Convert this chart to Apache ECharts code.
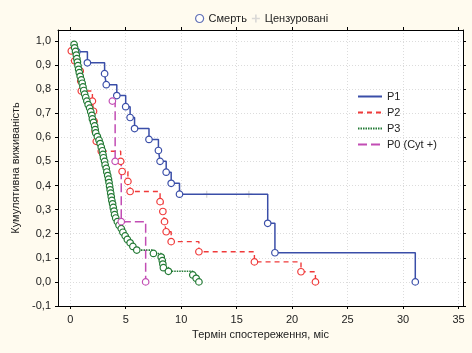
<!DOCTYPE html>
<html>
<head>
<meta charset="utf-8">
<script src="https://cdn.jsdelivr.net/npm/echarts@6/dist/echarts.min.js"></script>
<style>
  html, body { margin: 0; padding: 0; background: #fffbef; }
  #chart { width: 472px; height: 353px; }
</style>
</head>
<body>
<div id="chart"></div>
<script>
// tick labels
var xTicks = [0, 5, 10, 15, 20, 25, 30, 35];
var yTicks = [-0.1, 0, 0.1, 0.2, 0.3, 0.4, 0.5, 0.6, 0.7, 0.8, 0.9, 1.0];

// P1: event times and survival
var p1Time = [0.6, 1.55, 3.1, 3.25, 4.2, 5.0, 5.4, 5.8, 7.1, 7.95, 8.1, 8.65, 9.1, 9.85, 17.8, 18.45, 31.1];
var p1Surv = [0.955, 0.909, 0.864, 0.818, 0.773, 0.727, 0.682, 0.636, 0.591, 0.545, 0.500, 0.455, 0.409, 0.364, 0.243, 0.121, 0.0];

// P2
var p2Time = [0.1, 0.4, 0.9, 0.95, 1.0, 2.0, 2.1, 2.15, 2.25, 2.35, 2.8, 4.55, 4.68, 5.2, 5.4, 8.1, 8.35, 8.5, 8.65, 9.1, 11.6, 16.6, 20.8, 22.1];
var p2Surv = [0.958, 0.917, 0.875, 0.833, 0.792, 0.750, 0.708, 0.667, 0.625, 0.583, 0.542, 0.500, 0.458, 0.417, 0.375, 0.333, 0.292, 0.250, 0.208, 0.167, 0.125, 0.083, 0.042, 0.0];

// P3
var p3Time = [0.35, 0.40, 0.48, 0.55, 0.60, 0.65, 0.70, 0.76, 0.82, 0.90, 1.00, 1.08, 1.15, 1.22, 1.30, 1.40, 1.50, 1.62, 1.75, 1.85,
              1.95, 2.00, 2.10, 2.20, 2.25, 2.30, 2.45, 2.60, 2.70, 2.80, 2.90, 2.95, 3.00, 3.10, 3.15, 3.25, 3.30, 3.38, 3.45, 3.50,
              3.55, 3.60, 3.65, 3.70, 3.75, 3.82, 3.88, 3.95, 4.00, 4.10, 4.25, 4.40, 4.60, 4.75, 4.95, 5.15, 5.40, 5.65, 6.00, 7.50,
              8.20, 8.30, 8.35, 8.40, 8.85, 11.05, 11.35, 11.6];
var p3Surv = [0.985, 0.971, 0.956, 0.941, 0.926, 0.912, 0.897, 0.882, 0.868, 0.853, 0.838, 0.824, 0.809, 0.794, 0.779, 0.765, 0.750, 0.735, 0.721, 0.706,
              0.691, 0.676, 0.662, 0.647, 0.632, 0.618, 0.603, 0.588, 0.574, 0.559, 0.544, 0.529, 0.515, 0.500, 0.485, 0.471, 0.456, 0.441, 0.426, 0.412,
              0.397, 0.382, 0.368, 0.353, 0.338, 0.324, 0.309, 0.294, 0.279, 0.265, 0.250, 0.235, 0.221, 0.206, 0.191, 0.176, 0.162, 0.147, 0.132, 0.118,
              0.103, 0.088, 0.074, 0.059, 0.044, 0.029, 0.015, 0.0];

// P0 (Cyt +)
var p0Time = [3.8, 4.05, 4.6, 6.8];
var p0Surv = [0.75, 0.50, 0.25, 0.0];

// censored observations
var censTime = [12.3, 16.1];
var censSurv = [0.364, 0.364];

var font = "'Liberation Sans Narrow', 'Liberation Sans', Arial, sans-serif";
var plusPath = 'path://M4,0L6,0L6,4L10,4L10,6L6,6L6,10L4,10L4,6L0,6L0,4L4,4Z';

function zip(a, b) {
    return a.map(function (v, i) { return [v, b[i]]; });
}

function kmSeries(name, time, surv, color, type, width) {
    return {
        name: name,
        type: 'line',
        step: 'end',
        data: zip(time, surv),
        symbol: 'circle',
        symbolSize: 6.5,
        showAllSymbol: true,
        itemStyle: { color: '#ffffff', borderColor: color, borderWidth: 1.2 },
        lineStyle: { color: color, width: width, type: type },
        emphasis: { disabled: true }
    };
}

var chart = echarts.init(document.getElementById('chart'), null, { renderer: 'canvas' });

var gridLine = { show: true, lineStyle: { color: '#dcdcdc', type: [1, 2], width: 1 } };

var option = {
    animation: false,
    backgroundColor: '#fffbef',
    textStyle: { fontFamily: font },
    grid: { left: 58, top: 30, right: 9, bottom: 47, show: true, backgroundColor: '#ffffff', borderWidth: 0 },
    legend: [
        {
            data: ['Смерть', 'Цензуровані'],
            top: 8,
            left: 190,
            itemWidth: 8,
            itemHeight: 8,
            itemGap: 5,
            itemStyle: { borderWidth: 1.2 },
            textStyle: { fontFamily: font, fontSize: 11, color: '#222' }
        },
        {
            data: ['P1', 'P2', 'P3', 'P0 (Cyt +)'],
            orient: 'vertical',
            left: 352,
            top: 86,
            itemWidth: 24,
            itemHeight: 12,
            itemGap: 5,
            itemStyle: { color: 'rgba(0,0,0,0)', borderColor: 'rgba(0,0,0,0)', borderWidth: 0, opacity: 0 },
            textStyle: { fontFamily: font, fontSize: 11, color: '#222' }
        }
    ],
    xAxis: [
        {
            type: 'value',
            position: 'bottom',
            min: -1.1,
            max: 35.4,
            name: 'Термін спостереження, міс',
            nameLocation: 'middle',
            nameGap: 23,
            nameTextStyle: { fontFamily: font, fontSize: 11, color: '#222' },
            axisLine: { show: true, onZero: false, lineStyle: { color: '#000', width: 1 } },
            axisTick: { show: true, length: 3, customValues: xTicks, lineStyle: { color: '#000' } },
            axisLabel: { customValues: xTicks, fontFamily: font, fontSize: 11, color: '#222', margin: 8 },
            splitLine: gridLine
        },
        {
            type: 'value',
            position: 'top',
            min: -1.1,
            max: 35.4,
            axisLine: { show: true, onZero: false, lineStyle: { color: '#000', width: 1 } },
            axisTick: { show: true, length: 3, customValues: xTicks, lineStyle: { color: '#000' } },
            axisLabel: { show: false },
            splitLine: { show: false }
        }
    ],
    yAxis: [
        {
            type: 'value',
            position: 'left',
            min: -0.1,
            max: 1.045,
            name: 'Кумулятивна виживаність',
            nameLocation: 'middle',
            nameGap: 35,
            nameTextStyle: { fontFamily: font, fontSize: 11, color: '#222' },
            axisLine: { show: true, onZero: false, lineStyle: { color: '#000', width: 1 } },
            axisTick: { show: true, length: 3, customValues: yTicks, lineStyle: { color: '#000' } },
            axisLabel: {
                customValues: yTicks,
                fontFamily: font, fontSize: 11, color: '#222', margin: 7,
                formatter: function (v) { return v.toFixed(1).replace('.', ','); }
            },
            splitLine: gridLine
        },
        {
            type: 'value',
            position: 'right',
            min: -0.1,
            max: 1.045,
            axisLine: { show: true, onZero: false, lineStyle: { color: '#000', width: 1 } },
            axisTick: { show: true, length: 3, customValues: yTicks, lineStyle: { color: '#000' } },
            axisLabel: { show: false },
            splitLine: { show: false }
        }
    ],
    series: [
        kmSeries('P1', p1Time, p1Surv, '#3a4ea8', 'solid', 1.5),
        kmSeries('P2', p2Time, p2Surv, '#f03a3a', [5, 4], 1.4),
        kmSeries('P3', p3Time, p3Surv, '#237a35', [1.5, 1], 1.6),
        kmSeries('P0 (Cyt +)', p0Time, p0Surv, '#c24db4', [9, 4], 1.5),
        {
            name: 'Цензуровані',
            type: 'scatter',
            data: zip(censTime, censSurv),
            symbol: plusPath,
            symbolSize: 7,
            itemStyle: { color: '#cfcfcf' },
            emphasis: { disabled: true }
        },
        {
            name: 'Смерть',
            type: 'scatter',
            data: [],
            symbol: 'circle',
            symbolSize: 7,
            itemStyle: { color: '#ffffff', borderColor: '#3a4ea8', borderWidth: 1.2 }
        }
    ]
};

chart.setOption(option);
</script>
</body>
</html>
